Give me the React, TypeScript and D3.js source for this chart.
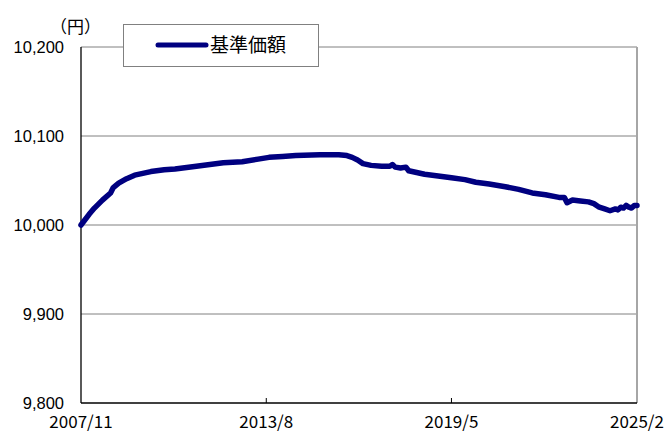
import React from 'react';
import * as d3 from 'd3';

// 基準価額（円）
const dates = [
  '2007/11', '2008/2', '2008/4', '2008/7', '2008/10', '2008/11', '2009/1', '2009/4', '2009/7',
  '2010/1', '2010/6', '2010/10', '2011/6', '2012/4', '2012/11', '2013/5', '2013/9', '2014/2',
  '2014/7', '2015/4', '2015/11', '2016/2', '2016/4', '2016/6', '2016/8', '2016/11', '2017/3',
  '2017/6', '2017/7', '2017/8', '2017/10', '2017/12', '2018/1', '2018/4', '2018/7', '2018/12',
  '2019/5', '2019/10', '2020/2', '2020/7', '2021/1', '2021/6', '2021/11', '2022/4', '2022/9',
  '2022/11', '2022/12', '2023/2', '2023/5', '2023/8', '2023/10', '2023/12', '2024/2', '2024/4',
  '2024/6', '2024/7', '2024/8', '2024/9', '2024/10', '2024/11', '2024/12', '2025/1', '2025/2',
];
const values = [
  10000, 10012, 10019, 10028, 10036, 10042, 10047, 10052, 10056,
  10060, 10062, 10063, 10066, 10070, 10071, 10074, 10076, 10077,
  10078, 10079, 10079, 10078, 10076, 10073, 10069, 10067, 10066,
  10066, 10068, 10065, 10064, 10065, 10061, 10059, 10057, 10055,
  10053, 10051, 10048, 10046, 10043, 10040, 10036, 10034, 10031,
  10031, 10025, 10028, 10027, 10026, 10024, 10020, 10018, 10016,
  10018, 10017, 10020, 10019, 10022, 10020, 10019, 10022, 10022,
];
const yTicks = [9800, 9900, 10000, 10100, 10200];
const xTickLabels = ['2007/11', '2013/8', '2019/5', '2025/2'];

const parse = (s: string) => {
  const [y, m] = s.split('/').map(Number);
  return new Date(y, m - 1, 1);
};

export default function App() {
  const left = 81, right = 637, top = 47, bottom = 403;
  const x = d3.scaleTime()
    .domain([parse(xTickLabels[0]), parse(xTickLabels[xTickLabels.length - 1])])
    .range([left, right]);
  const y = d3.scaleLinear().domain([9800, 10200]).range([bottom, top]);

  const pts = dates.map((d, i) => ({ d: parse(d), v: values[i] }));
  const line = d3.line<{ d: Date; v: number }>()
    .x(p => x(p.d))
    .y(p => y(p.v))
    .curve(d3.curveLinear);

  return (
    <div style={{ position: 'absolute', left: 0, top: 0 }}>
      <svg width={667} height={433} style={{ display: 'block', background: '#fff' }}>
        {/* grid */}
        {yTicks.filter(t => t !== 9800).map(t => (
          <line key={t} x1={left} x2={right} y1={y(t)} y2={y(t)} stroke="#808080" strokeWidth={1} />
        ))}
        {/* right border */}
        <line x1={right} x2={right} y1={top} y2={bottom} stroke="#a6a6a6" strokeWidth={2} />
        {/* axes */}
        <line x1={left} x2={left} y1={top} y2={bottom} stroke="#000" strokeWidth={1.3} />
        <line x1={left} x2={right} y1={bottom} y2={bottom} stroke="#000" strokeWidth={1.3} />
        {xTickLabels.slice(1, -1).map(l => (
          <line key={l} x1={x(parse(l))} x2={x(parse(l))} y1={bottom} y2={bottom - 5} stroke="#000" strokeWidth={1} />
        ))}

        {/* y labels */}
        {yTicks.map(t => (
          <text key={t} x={64} y={y(t)} dy="0.35em" textAnchor="end"
            fontFamily="Liberation Sans, Arial, sans-serif" fontSize={16.5} fill="#000">
            {d3.format(',')(t)}
          </text>
        ))}
        <text x={50} y={33} fontFamily="Noto Sans CJK JP" fontSize={17} fill="#000">（円）</text>

        {/* x labels */}
        {xTickLabels.map(l => (
          <text key={l} x={x(parse(l))} y={428} textAnchor="middle"
            fontFamily="Noto Sans CJK JP" fontSize={17} fill="#000">
            {l}
          </text>
        ))}

        {/* series */}
        <path d={line(pts) || ''} fill="none" stroke="#000080" strokeWidth={5.5}
          strokeLinejoin="round" strokeLinecap="round" />

        {/* legend */}
        <rect x={123.5} y={24.5} width={195} height={42} fill="#fff" stroke="#808080" strokeWidth={1} />
        <line x1={158} x2={206} y1={45} y2={45} stroke="#000080" strokeWidth={5} strokeLinecap="round" />
        <text x={210} y={52} fontFamily="Noto Sans CJK JP" fontSize={19} fill="#000">基準価額</text>
      </svg>
    </div>
  );
}
